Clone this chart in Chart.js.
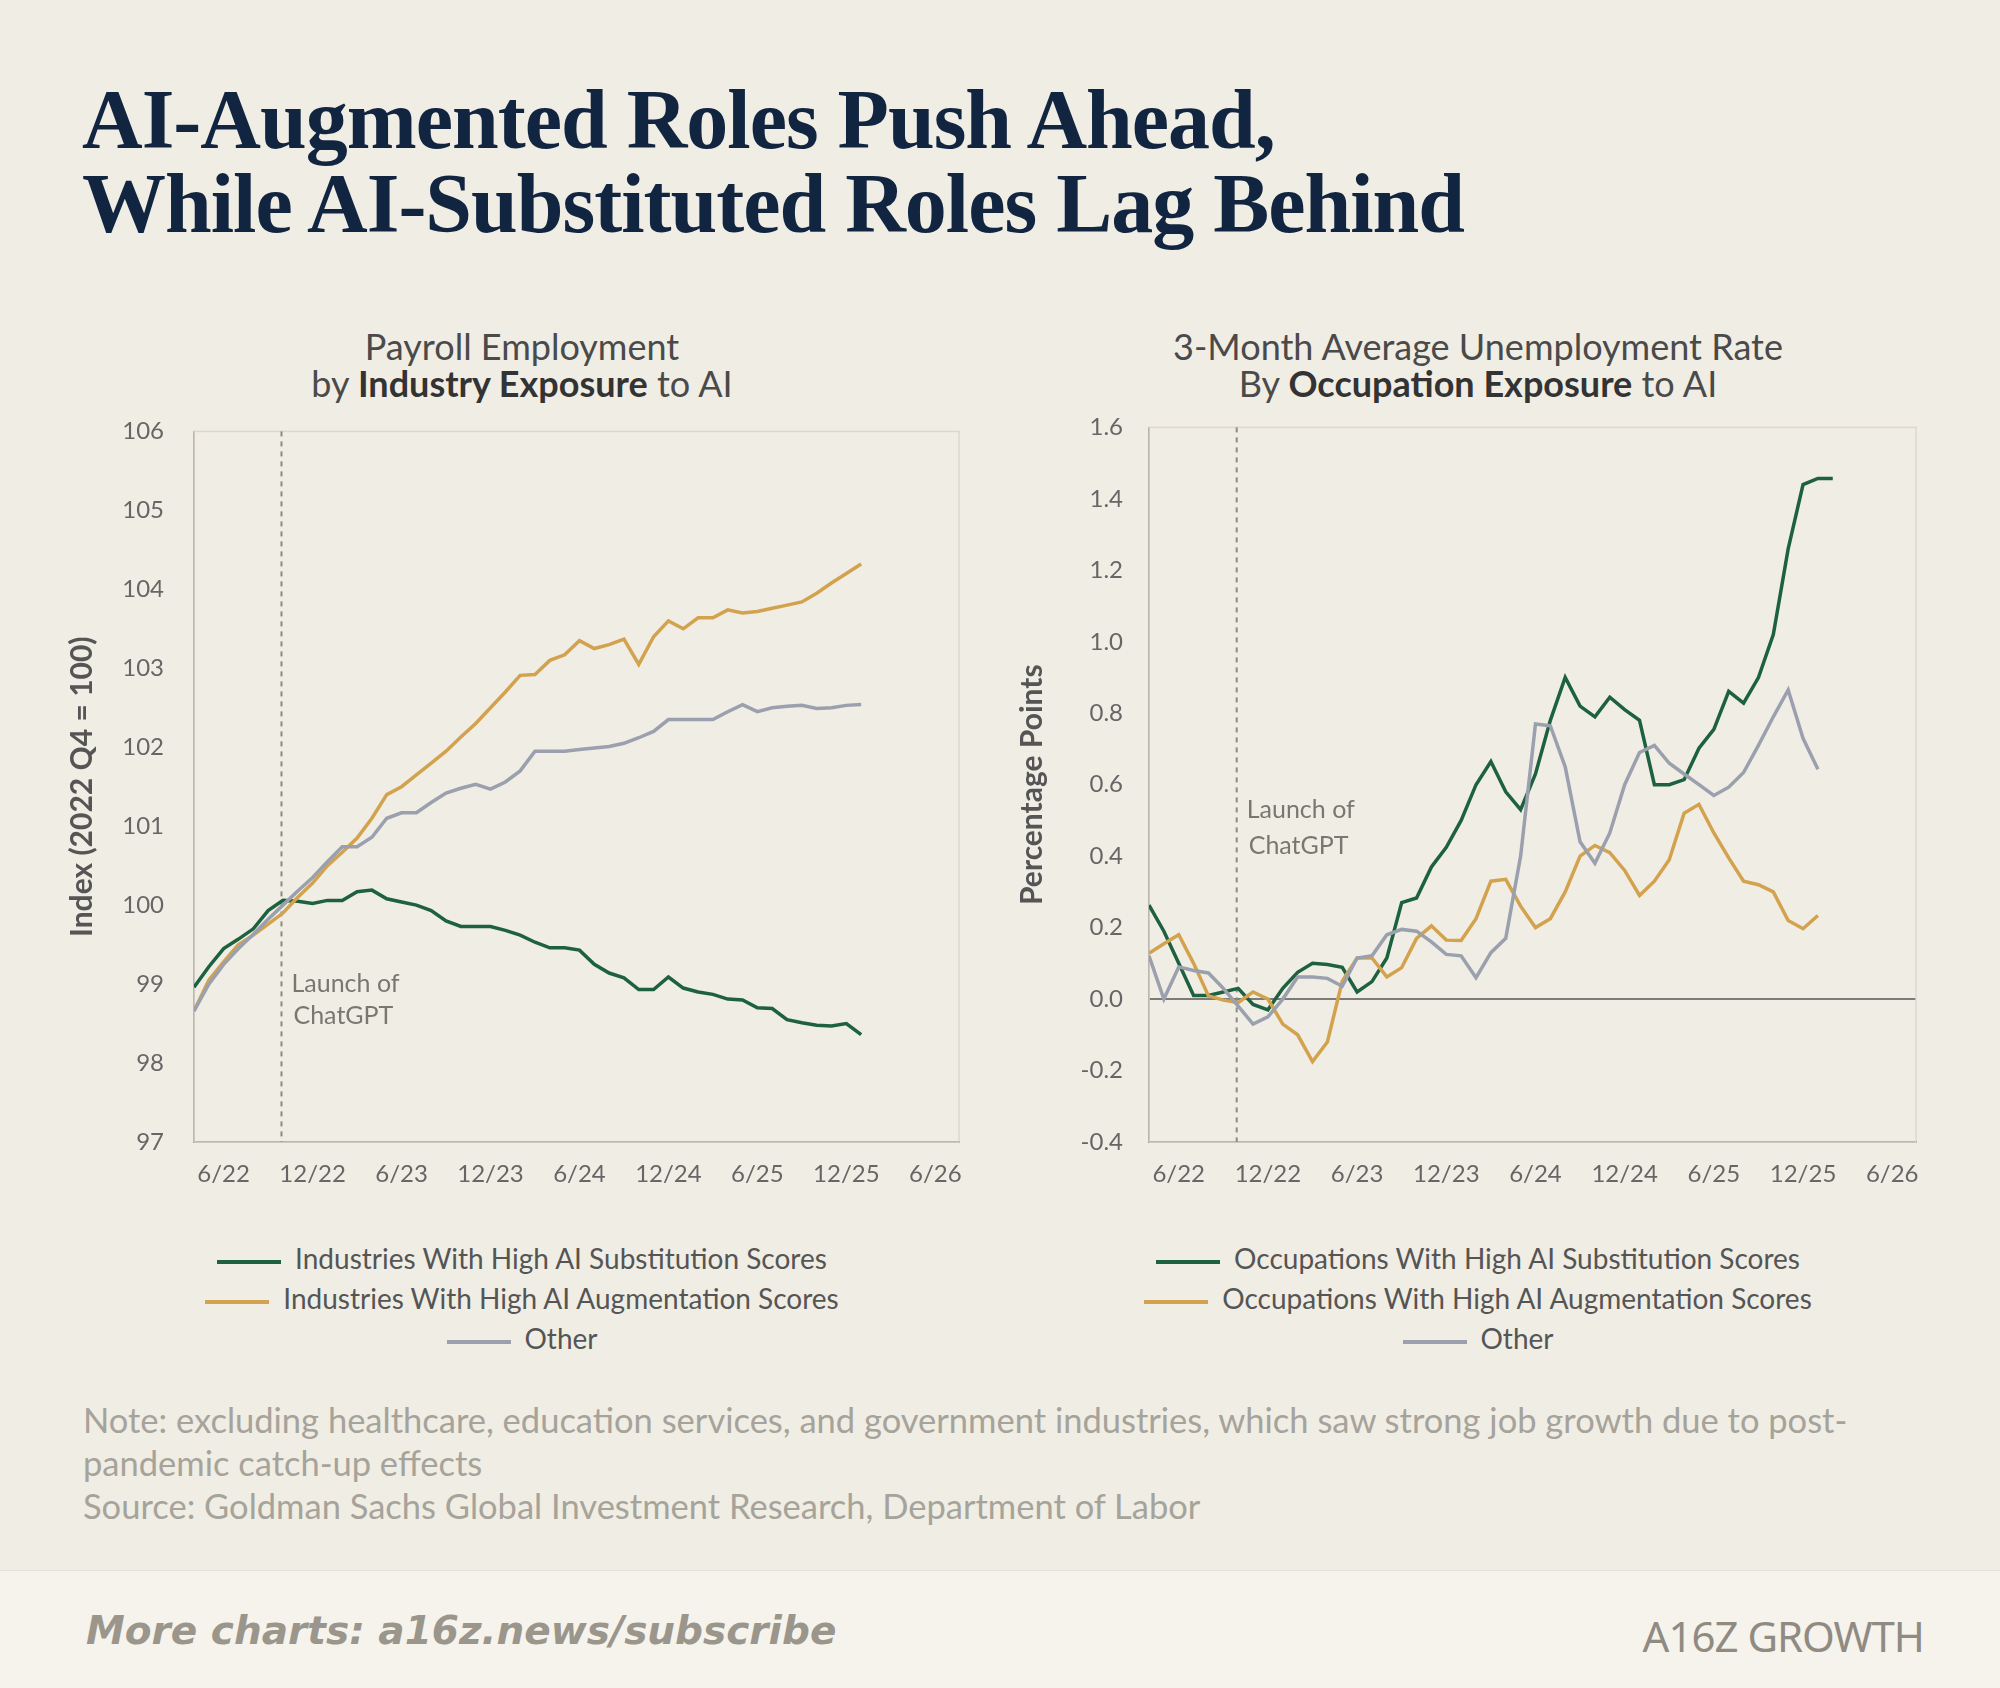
<!DOCTYPE html>
<html>
<head>
<meta charset="utf-8">
<script src="https://cdn.jsdelivr.net/npm/chart.js@4.4.1/dist/chart.umd.min.js"></script>
<style>
  body { margin: 0; width: 2000px; height: 1688px; background: #f0ede4; font-family: Lato, "Open Sans", sans-serif; position: relative; overflow: hidden; }
  .title { position: absolute; left: 82px; top: 78px; font-family: "Liberation Serif", "DejaVu Serif", serif; font-weight: bold; font-size: 84px; line-height: 84px; color: #112440; letter-spacing: -1px; }
  .sub { position: absolute; top: 328px; width: 900px; text-align: center; font-size: 36px; line-height: 37px; color: #4a4a4a; }
  .sub b { color: #333; }
  canvas { position: absolute; }
  .legend { position: absolute; top: 1238px; width: 900px; text-align: center; font-size: 28px; color: #555; line-height: 40px; }
  .legend span.sw { display: inline-block; width: 64px; height: 4px; vertical-align: middle; margin-right: 14px; }
  .note { position: absolute; left: 83px; top: 1398px; font-size: 34.5px; line-height: 43px; color: #a6a39b; width: 1880px; }
  .footer { position: absolute; left: 0; top: 1570px; width: 2000px; height: 118px; background: #f5f3ec; border-top: 1px solid #e6e2d8; }
  .more { position: absolute; left: 86px; top: 1608px; font-size: 39px; font-style: italic; font-weight: bold; color: #9a968c; font-family: "DejaVu Sans", sans-serif; }
  .logo { position: absolute; right: 76px; top: 1607px; font-size: 42px; color: #8f8b82; letter-spacing: -1px; font-family: "Noto Sans", sans-serif; }
</style>
</head>
<body>
<div class="title">AI-Augmented Roles Push Ahead,<br>While AI-Substituted Roles Lag Behind</div>

<div class="sub" style="left:72px">Payroll Employment<br>by <b>Industry Exposure</b> to AI</div>
<div class="sub" style="left:1028px">3-Month Average Unemployment Rate<br>By <b>Occupation Exposure</b> to AI</div>

<canvas id="payroll-chart" width="940" height="805" style="left:60px;top:395px"></canvas>
<canvas id="unemp-chart" width="950" height="805" style="left:1010px;top:395px"></canvas>

<div class="legend" style="left:72px">
  <div><span class="sw" style="background:#1d6140"></span>Industries With High AI Substitution Scores</div>
  <div><span class="sw" style="background:#d3a24e"></span>Industries With High AI Augmentation Scores</div>
  <div><span class="sw" style="background:#9aa0ad"></span>Other</div>
</div>
<div class="legend" style="left:1028px">
  <div><span class="sw" style="background:#1d6140"></span>Occupations With High AI Substitution Scores</div>
  <div><span class="sw" style="background:#d3a24e"></span>Occupations With High AI Augmentation Scores</div>
  <div><span class="sw" style="background:#9aa0ad"></span>Other</div>
</div>

<div class="note">Note: excluding healthcare, education services, and government industries, which saw strong job growth due to post-<br>pandemic catch-up effects<br>Source: Goldman Sachs Global Investment Research, Department of Labor</div>

<div class="footer"></div>
<div class="more">More charts: a16z.news/subscribe</div>
<div class="logo">A16Z GROWTH</div>

<script>
// Monthly series, first point = April 2022 (month 4 counted from Jan 2022)
const startMonth = 4;
const launchMonth = 9.9;

const payroll = {
    substitution: [98.96, 99.22, 99.45, 99.57, 99.7, 99.93, 100.06, 100.05, 100.02, 100.06, 100.06, 100.17, 100.19, 100.08, 100.04, 100.0, 99.93, 99.8, 99.73, 99.73, 99.73, 99.68, 99.62, 99.53, 99.46, 99.46, 99.43, 99.25, 99.14, 99.08, 98.93, 98.93, 99.09, 98.95, 98.9, 98.87, 98.81, 98.8, 98.7, 98.69, 98.55, 98.51, 98.48, 98.47, 98.5, 98.36],
    augmentation: [98.66, 99.05, 99.28, 99.5, 99.62, 99.76, 99.9, 100.1, 100.28, 100.5, 100.67, 100.85, 101.1, 101.4, 101.5, 101.65, 101.8, 101.95, 102.13, 102.3, 102.5, 102.7, 102.91, 102.92, 103.1, 103.17, 103.35, 103.25, 103.3, 103.37, 103.05, 103.4, 103.6, 103.5, 103.64, 103.64, 103.74, 103.7, 103.72, 103.76, 103.8, 103.84, 103.95, 104.08, 104.2, 104.32],
    other: [98.66, 99.0, 99.25, 99.45, 99.63, 99.82, 100.0, 100.18, 100.35, 100.55, 100.74, 100.74, 100.86, 101.1, 101.17, 101.17, 101.3, 101.42, 101.48, 101.53, 101.47, 101.56, 101.7, 101.95, 101.95, 101.95, 101.97, 101.99, 102.01, 102.05, 102.12, 102.2, 102.35, 102.35, 102.35, 102.35, 102.45, 102.54, 102.45, 102.5, 102.52, 102.53, 102.49, 102.5, 102.53, 102.54]
};

const unemployment = {
    substitution: [0.263, 0.19, 0.10, 0.01, 0.01, 0.02, 0.03, -0.015, -0.03, 0.03, 0.075, 0.10, 0.097, 0.089, 0.02, 0.049, 0.115, 0.27, 0.283, 0.37, 0.425, 0.5, 0.6, 0.665, 0.58, 0.53, 0.63, 0.78, 0.9, 0.82, 0.79, 0.845, 0.81, 0.78, 0.6, 0.6, 0.614, 0.702, 0.755, 0.861, 0.828, 0.9, 1.02, 1.26, 1.44, 1.457, 1.457],
    augmentation: [0.128, 0.155, 0.18, 0.10, 0.009, -0.003, -0.01, 0.02, 0.0, -0.07, -0.1, -0.175, -0.12, 0.05, 0.115, 0.115, 0.062, 0.088, 0.17, 0.205, 0.165, 0.164, 0.225, 0.33, 0.335, 0.26, 0.2, 0.225, 0.3, 0.4, 0.43, 0.41, 0.36, 0.29, 0.33, 0.39, 0.52, 0.545, 0.465, 0.395, 0.33, 0.32, 0.3, 0.22, 0.197, 0.234],
    other: [0.121, 0.0, 0.09, 0.08, 0.073, 0.03, -0.02, -0.07, -0.05, 0.0, 0.062, 0.062, 0.058, 0.036, 0.115, 0.121, 0.18, 0.195, 0.19, 0.16, 0.125, 0.121, 0.06, 0.13, 0.17, 0.4, 0.77, 0.765, 0.65, 0.44, 0.38, 0.465, 0.6, 0.69, 0.71, 0.66, 0.63, 0.6, 0.57, 0.593, 0.634, 0.71, 0.79, 0.865, 0.73, 0.643]
};

const colors = { substitution: '#1d6140', augmentation: '#d3a24e', other: '#9aa0ad' };

function toPoints(arr) {
    return arr.map((v, i) => ({ x: startMonth + i, y: v }));
}

function monthLabel(v) {
    const m = ((v - 1) % 12) + 1;
    const yy = 22 + Math.floor((v - 1) / 12);
    return m + '/' + yy;
}

// dashed launch line, label and light plot frame
function launchPlugin(textY1, textY2) {
    return {
        id: 'launch',
        beforeDatasetsDraw(chart) {
            const { ctx, chartArea: a, scales } = chart;
            ctx.save();
            ctx.strokeStyle = '#dcd8ce';
            ctx.lineWidth = 1.5;
            ctx.strokeRect(a.left, a.top, a.right - a.left, a.bottom - a.top);
            const x = scales.x.getPixelForValue(launchMonth);
            ctx.strokeStyle = '#8d8a82';
            ctx.lineWidth = 2;
            ctx.setLineDash([5, 5]);
            ctx.beginPath();
            ctx.moveTo(x, a.top);
            ctx.lineTo(x, a.bottom);
            ctx.stroke();
            ctx.setLineDash([]);
            ctx.fillStyle = '#7a7770';
            ctx.font = '25px Lato, sans-serif';
            ctx.textAlign = 'left';
            ctx.textBaseline = 'middle';
            ctx.fillText('Launch of', x + 10, scales.y.getPixelForValue(textY1));
            ctx.fillText('ChatGPT', x + 12, scales.y.getPixelForValue(textY2));
            ctx.restore();
        }
    };
}

function buildChart(id, data, yOpts, yTitle, yWidth, padRight, textY) {
    const ctx = document.getElementById(id).getContext('2d');
    return new Chart(ctx, {
        type: 'line',
        data: {
            datasets: ['substitution', 'augmentation', 'other'].reverse().map(key => ({
                label: key,
                data: toPoints(data[key]),
                borderColor: colors[key],
                borderWidth: 3.5,
                pointRadius: 0,
                tension: 0
            }))
        },
        options: {
            responsive: false,
            animation: false,
            devicePixelRatio: 1,
            layout: { padding: { top: 6, right: padRight } },
            plugins: { legend: { display: false }, tooltip: { enabled: false } },
            scales: {
                x: {
                    type: 'linear',
                    min: 4,
                    max: 55.6,
                    afterBuildTicks: s => { s.ticks = [6, 12, 18, 24, 30, 36, 42, 48, 54].map(v => ({ value: v })); },
                    afterFit: s => { s.height = 58; },
                    grid: { display: false },
                    border: { color: '#555', width: 1.5 },
                    ticks: { callback: v => monthLabel(v), color: '#666', font: { size: 24, family: 'Lato' }, maxRotation: 0, padding: 10 }
                },
                y: Object.assign({
                    afterFit: s => { s.width = yWidth; },
                    grid: { display: false },
                    border: { color: '#555', width: 1.5 },
                    title: { display: true, text: yTitle, color: '#555', font: { size: 30, family: 'Lato', weight: 'bold' }, padding: { bottom: 18 } }
                }, yOpts)
            }
        },
        plugins: [launchPlugin(textY[0], textY[1])]
    });
}

buildChart('payroll-chart', payroll, {
    min: 97, max: 106,
    ticks: { stepSize: 1, color: '#666', font: { size: 24, family: 'Lato' }, padding: 22 }
}, 'Index (2022 Q4 = 100)', 134, 41, [99.0, 98.6]);

const zeroLine = {
    id: 'zero',
    beforeDatasetsDraw(chart) {
        const { ctx, chartArea: a, scales } = chart;
        const y = scales.y.getPixelForValue(0);
        ctx.save();
        ctx.strokeStyle = '#555';
        ctx.lineWidth = 1.5;
        ctx.beginPath();
        ctx.moveTo(a.left, y);
        ctx.lineTo(a.right, y);
        ctx.stroke();
        ctx.restore();
    }
};
Chart.register(zeroLine);

buildChart('unemp-chart', unemployment, {
    min: -0.4, max: 1.6,
    ticks: { stepSize: 0.2, callback: v => v.toFixed(1), color: '#666', font: { size: 24, family: 'Lato' }, padding: 18 }
}, 'Percentage Points', 139, 44, [0.53, 0.43]);
</script>
</body>
</html>
